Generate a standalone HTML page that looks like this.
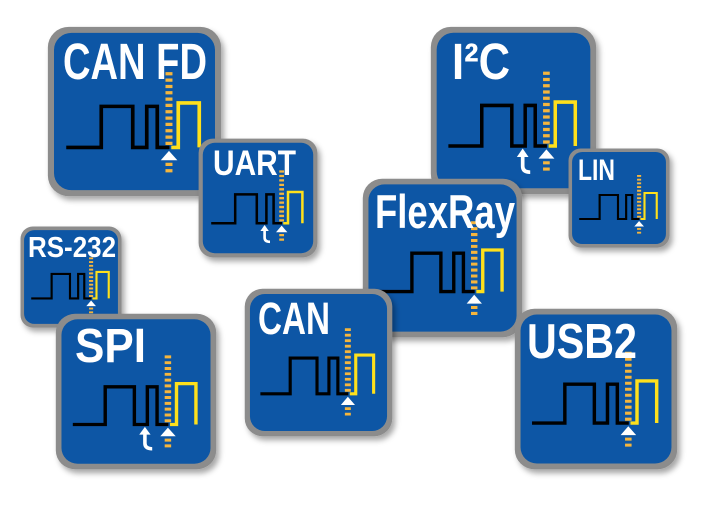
<!DOCTYPE html>
<html><head><meta charset="utf-8"><style>
html,body{margin:0;padding:0;background:#fff;width:720px;height:515px;overflow:hidden}
svg{display:block}
text{font-family:"Liberation Sans",sans-serif;font-weight:bold;fill:#fff}
</style></head><body>
<svg width="720" height="515" viewBox="0 0 720 515">
<defs>
<filter id="sh" x="-20%" y="-20%" width="150%" height="150%">
<feDropShadow dx="3" dy="4" stdDeviation="3" flood-color="#000" flood-opacity="0.35"/>
</filter>
<symbol id="ic" viewBox="0 0 100 100" preserveAspectRatio="none">
<rect x="0.5" y="0.5" width="99" height="99" rx="12" fill="#8c8c8c"/>
<rect x="4" y="4" width="92" height="92" rx="10" fill="#0a56a5"/>
<polyline points="11,71 31,71 31,47 49,47 49,71 57,71 57,47 63,47 63,71 70,71" fill="none" stroke="#000" stroke-width="2.1"/>
<line x1="69.7" y1="27" x2="69.7" y2="70" stroke="#f5b53c" stroke-width="4" stroke-dasharray="1.9 1.8"/>
<line x1="69.7" y1="80" x2="69.7" y2="86" stroke="#f5b53c" stroke-width="4" stroke-dasharray="1.9 1.8"/>
<polyline points="71,71 75,71 75,45 87,45 87,71" fill="none" stroke="#ffe01a" stroke-width="2.1"/>
<polygon points="65,78.5 74.5,78.5 69.7,73" fill="#fff"/>
</symbol>
<symbol id="hk" viewBox="0 0 100 100" preserveAspectRatio="none">
<path d="M55.5 75 V83 Q55.5 86.5 60 86.5" fill="none" stroke="#fff" stroke-width="2.2"/>
<polygon points="52,77.5 59,77.5 55.5,72.5" fill="#fff"/>
</symbol>
</defs>

<g filter="url(#sh)"><use href="#ic" x="47" y="26" width="175" height="171"/></g>
<text x="63" y="79" font-size="51" textLength="144" lengthAdjust="spacingAndGlyphs">CAN FD</text>

<g filter="url(#sh)"><use href="#ic" x="198" y="138" width="120" height="120"/></g>
<use href="#hk" x="198" y="138" width="120" height="120"/>
<text x="213" y="175" font-size="35" textLength="83" lengthAdjust="spacingAndGlyphs">UART</text>

<g filter="url(#sh)"><use href="#ic" x="430" y="26" width="167" height="169"/></g>
<use href="#hk" x="430" y="26" width="167" height="169"/>
<text x="452" y="79" font-size="51" textLength="58" lengthAdjust="spacingAndGlyphs">I²C</text>

<g filter="url(#sh)"><use href="#ic" x="568" y="148" width="102" height="100"/></g>
<text x="578" y="180" font-size="30" textLength="37" lengthAdjust="spacingAndGlyphs">LIN</text>

<g filter="url(#sh)"><use href="#ic" x="362" y="178" width="161" height="160"/></g>
<text x="375" y="228" font-size="47" textLength="140" lengthAdjust="spacingAndGlyphs">FlexRay</text>

<g filter="url(#sh)"><use href="#ic" x="20" y="226" width="102" height="102"/></g>
<text x="28" y="257" font-size="29" textLength="88" lengthAdjust="spacingAndGlyphs">RS-232</text>

<g filter="url(#sh)"><use href="#ic" x="55" y="313" width="162" height="157"/></g>
<use href="#hk" x="55" y="313" width="162" height="157"/>
<text x="75" y="362" font-size="48" textLength="71" lengthAdjust="spacingAndGlyphs">SPI</text>

<g filter="url(#sh)"><use href="#ic" x="244" y="288" width="149" height="149"/></g>
<text x="258" y="334" font-size="45" textLength="72" lengthAdjust="spacingAndGlyphs">CAN</text>

<g filter="url(#sh)"><use href="#ic" x="514" y="308" width="164" height="162"/></g>
<text x="527" y="358" font-size="49" textLength="110" lengthAdjust="spacingAndGlyphs">USB2</text>
</svg>
</body></html>
